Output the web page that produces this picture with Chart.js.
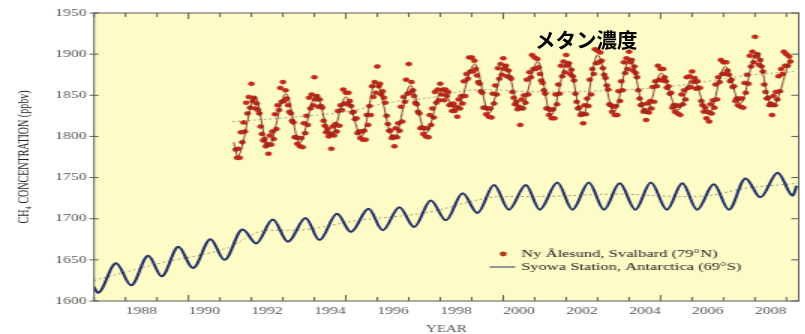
<!DOCTYPE html>
<html lang="ja">
<head>
    <meta charset="UTF-8">
    <title>メタン濃度</title>
    <script src="https://cdn.jsdelivr.net/npm/chart.js"></script>
    <style>
        body {
            margin: 0;
            padding: 0;
            background: #ffffff;
            overflow: hidden;
        }
        /* the original picture is stretched sideways, so the chart is drawn narrow and widened */
        #wrap {
            position: absolute;
            left: 0;
            top: 0;
            width: 537px;
            height: 334px;
            transform: scaleX(1.5);
            transform-origin: 0 0;
        }
        #jp {
            position: absolute;
            left: 535px;
            top: 29px;
            font-family: "Noto Sans CJK JP", sans-serif;
            font-weight: bold;
            font-size: 20.5px;
            line-height: 1;
            color: #000;
        }
    </style>
</head>
<body>
    <div id="wrap"><canvas id="chart"></canvas></div>
    <div id="jp">メタン濃度</div>
    <script>
        const seriesNames = ['Ny Ålesund, Svalbard (79°N)', 'Syowa Station, Antarctica (69°S)'];
        const yearLabels = [1988, 1990, 1992, 1994, 1996, 1998, 2000, 2002, 2004, 2006, 2008];
        const yTicks = [1600, 1650, 1700, 1750, 1800, 1850, 1900, 1950];

        // Ny Alesund flask samples, two per month from July 1991
        const nyDotStart = 1991.5;
        const nyDots = [
            1784,1774,1785,1774,1805,1793,1817,1806,1841,1828,1848,1835,1864,1843,1847,1834,1840,1832,1828,1812,1803,1795,1797,1788,
            1791,1779,1801,1790,1806,1797,1827,1809,1838,1832,1859,1842,1866,1843,1856,1846,1838,1830,1828,1819,1817,1799,1799,1791,
            1798,1788,1798,1787,1816,1804,1825,1814,1847,1834,1851,1838,1872,1845,1849,1836,1845,1837,1835,1819,1813,1805,1809,1800,
            1804,1785,1812,1801,1815,1806,1831,1813,1838,1832,1857,1840,1853,1839,1853,1843,1837,1829,1830,1821,1822,1804,1806,1798,
            1806,1796,1807,1796,1826,1814,1837,1826,1861,1848,1866,1853,1885,1861,1864,1851,1855,1847,1841,1825,1815,1807,1807,1798,
            1800,1788,1810,1799,1816,1807,1836,1818,1848,1842,1869,1852,1888,1853,1866,1856,1849,1841,1839,1830,1828,1810,1811,1803,
            1810,1800,1810,1799,1826,1814,1834,1823,1854,1841,1857,1844,1864,1851,1857,1844,1857,1849,1854,1838,1839,1831,1840,1831,
            1836,1824,1845,1834,1849,1840,1867,1849,1876,1870,1896,1879,1896,1879,1892,1882,1874,1866,1864,1855,1853,1835,1835,1827,
            1834,1824,1834,1823,1852,1840,1862,1851,1883,1870,1888,1875,1895,1882,1886,1873,1880,1872,1870,1854,1847,1839,1842,1833,
            1836,1814,1845,1834,1850,1841,1869,1851,1878,1872,1899,1882,1896,1882,1894,1884,1876,1868,1865,1856,1852,1834,1834,1826,
            1832,1822,1833,1822,1851,1839,1863,1852,1886,1873,1891,1878,1899,1886,1889,1876,1881,1873,1868,1852,1842,1834,1835,1826,
            1828,1816,1838,1827,1846,1837,1869,1851,1882,1876,1906,1889,1904,1890,1902,1892,1883,1875,1871,1862,1857,1839,1838,1830,
            1836,1826,1837,1826,1855,1843,1867,1856,1890,1877,1895,1882,1903,1890,1893,1880,1885,1877,1872,1856,1846,1838,1839,1830,
            1832,1820,1840,1829,1843,1834,1860,1842,1867,1861,1886,1869,1882,1868,1882,1872,1867,1859,1861,1852,1853,1835,1838,1830,
            1838,1828,1837,1826,1851,1839,1856,1845,1872,1859,1873,1860,1879,1866,1871,1858,1867,1859,1859,1843,1838,1830,1835,1822,
            1830,1818,1839,1828,1844,1835,1863,1845,1872,1866,1893,1876,1890,1876,1890,1880,1875,1867,1869,1860,1861,1843,1846,1838,
            1846,1836,1846,1835,1865,1853,1875,1864,1898,1885,1903,1890,1921,1897,1900,1887,1893,1885,1879,1863,1854,1846,1847,1838,
            1840,1826,1849,1838,1854,1845,1873,1855,1882,1876,1903,1886,1900,1886,1897,1891
        ];

        // smoothed Ny Alesund curve (turning points)
        const nyLineYears = [1991.44,1991.56,1992.12,1992.53,1993.1,1993.53,1994.05,1994.53,1995.0,1995.5,1995.95,1996.53,1997.05,1997.55,1998.05,1998.5,1999.1,1999.55,2000.05,2000.55,2001.1,2001.52,2002.05,2002.52,2003.0,2003.52,2004.02,2004.53,2005.02,2005.55,2006.02,2006.53,2007.05,2007.54,2008.05,2008.54,2009.12];
        const nyLineValues = [1793,1776,1848,1787,1852,1792,1850,1800,1848,1800,1866,1796,1862,1804,1856,1832,1888,1828,1887,1832,1891,1826,1891,1824,1899,1830,1895,1828,1877,1832,1871,1826,1885,1840,1902,1836,1895];

        const nyTrendYears = [1991.4,1993.5,1995.0,1996.5,1997.5,1999.3,2001.3,2003.5,2005.6,2007.7,2009.3];
        const nyTrendValues = [1818,1824,1830,1842,1846,1857,1854,1856,1862,1874,1879];

        // Syowa Station (turning points of the seasonal cycle)
        const syYears = [1987.0,1987.12,1987.7,1988.18,1988.72,1989.15,1989.68,1990.14,1990.7,1991.14,1991.72,1992.15,1992.68,1993.16,1993.72,1994.16,1994.72,1995.16,1995.72,1996.17,1996.7,1997.17,1997.7,1998.18,1998.71,1999.18,1999.71,2000.18,2000.72,2001.16,2001.72,2002.2,2002.72,2003.2,2003.7,2004.2,2004.69,2005.2,2005.69,2006.16,2006.69,2007.17,2007.7,2008.17,2008.72,2009.2,2009.32];
        const syValues = [1617,1610,1646,1619,1655,1630,1666,1640,1675,1650,1687,1670,1699,1672,1701,1674,1706,1684,1712,1686,1714,1690,1722,1698,1731,1707,1741,1711,1741,1711,1744,1711,1744,1711,1743,1711,1744,1711,1743,1711,1742,1711,1749,1726,1756,1728,1740];

        const syTrendYears = [1987.0,1989.1,1991.2,1992.5,1993.3,1995.4,1997.65,1999.2,1999.9,2001.1,2003.6,2005.6,2006.5,2007.7,2009.35];
        const syTrendValues = [1625,1646,1664,1686,1686,1698,1708,1723,1727,1727,1730,1727,1728,1737,1743];

        const serif = '"Liberation Serif", "Times New Roman", serif';
        const pts = (xs, ys) => xs.map((x, i) => ({x: x, y: ys[i]}));
        const dotPoints = nyDots.map((v, i) => ({x: nyDotStart + i / 24, y: v}));

        // yellow plot area, frame, inside tick marks and legend
        const framePlugin = {
            id: 'frame',
            beforeDraw(chart) {
                const a = chart.chartArea, ctx = chart.ctx;
                ctx.save();
                ctx.fillStyle = '#fefcc6';
                ctx.fillRect(a.left, a.top, a.right - a.left, a.bottom - a.top);
                ctx.restore();
            },
            afterDraw(chart) {
                const a = chart.chartArea, ctx = chart.ctx;
                const xs = chart.scales.x, ys = chart.scales.y;
                ctx.save();
                ctx.strokeStyle = '#5a5a5a';
                ctx.lineWidth = 1;
                ctx.strokeRect(a.left, a.top, a.right - a.left, a.bottom - a.top);
                ctx.beginPath();
                for (let yr = 1987; yr <= 2009; yr++) {
                    const px = xs.getPixelForValue(yr);
                    const len = yr % 5 === 0 ? 6 : 4;
                    ctx.moveTo(px, a.bottom); ctx.lineTo(px, a.bottom - len);
                    ctx.moveTo(px, a.top); ctx.lineTo(px, a.top + len);
                }
                yTicks.forEach(v => {
                    const py = ys.getPixelForValue(v);
                    ctx.moveTo(a.left - 3, py); ctx.lineTo(a.left + 3, py);
                    ctx.moveTo(a.right, py); ctx.lineTo(a.right - 5, py);
                });
                ctx.stroke();

                // legend
                ctx.font = '11px ' + serif;
                ctx.textBaseline = 'middle';
                ctx.fillStyle = '#b53a1c';
                ctx.beginPath();
                ctx.arc(335.5, 254, 2.4, 0, Math.PI * 2);
                ctx.fill();
                ctx.strokeStyle = '#1f2f66';
                ctx.lineWidth = 1;
                ctx.beginPath();
                ctx.moveTo(326.5, 267); ctx.lineTo(343.5, 267);
                ctx.stroke();
                ctx.fillStyle = '#222222';
                ctx.fillText(seriesNames[0], 347.5, 254);
                ctx.fillText(seriesNames[1], 347.5, 267);
                ctx.restore();
            }
        };

        new Chart(document.getElementById('chart'), {
            type: 'line',
            data: {
                datasets: [{
                    label: seriesNames[0],
                    data: dotPoints,
                    showLine: false,
                    pointRadius: 2,
                    pointBackgroundColor: '#cc2716',
                    pointBorderColor: '#9e1f10',
                    pointBorderWidth: 0.5,
                    order: 1
                }, {
                    label: 'Ny Ålesund fit',
                    data: pts(nyLineYears, nyLineValues),
                    borderColor: '#7c2a1c',
                    borderWidth: 0.9,
                    pointRadius: 0,
                    cubicInterpolationMode: 'monotone',
                    order: 0
                }, {
                    label: 'Ny Ålesund trend',
                    data: pts(nyTrendYears, nyTrendValues),
                    borderColor: '#9c9a80',
                    borderWidth: 1,
                    borderDash: [1.5, 2],
                    pointRadius: 0,
                    cubicInterpolationMode: 'monotone',
                    order: 2
                }, {
                    label: seriesNames[1],
                    data: pts(syYears, syValues),
                    borderColor: '#1f2f66',
                    borderWidth: 2,
                    pointRadius: 0,
                    cubicInterpolationMode: 'monotone',
                    order: 1
                }, {
                    label: 'Syowa trend',
                    data: pts(syTrendYears, syTrendValues),
                    borderColor: '#8f8e78',
                    borderWidth: 1,
                    borderDash: [1.5, 2],
                    pointRadius: 0,
                    cubicInterpolationMode: 'monotone',
                    order: 2
                }]
            },
            options: {
                responsive: true,
                maintainAspectRatio: false,
                animation: false,
                layout: { padding: { top: 13, right: 3.7, left: 0, bottom: 0 } },
                plugins: {
                    legend: { display: false },
                    tooltip: { enabled: false }
                },
                scales: {
                    x: {
                        type: 'linear',
                        min: 1987,
                        max: 2009.39,
                        grid: { display: false, drawTicks: false },
                        border: { display: false },
                        afterBuildTicks: s => { s.ticks = yearLabels.map(y => ({ value: y + 0.5 })); },
                        afterFit: s => { s.height = 33; },
                        ticks: {
                            autoSkip: false,
                            maxRotation: 0,
                            padding: 4,
                            color: '#5a5650',
                            font: { family: serif, size: 10.5 },
                            callback: v => String(Math.floor(v))
                        },
                        title: {
                            display: true,
                            text: 'YEAR',
                            color: '#5a5650',
                            padding: { top: 0, bottom: 0 },
                            font: { family: serif, size: 10, lineHeight: 1 }
                        }
                    },
                    y: {
                        min: 1600,
                        max: 1950,
                        grid: { display: false, drawTicks: false },
                        border: { display: false },
                        afterBuildTicks: s => { s.ticks = yTicks.map(v => ({ value: v })); },
                        afterFit: s => { s.width = 62.7; },
                        ticks: {
                            padding: 5,
                            color: '#5a5650',
                            font: { family: serif, size: 10.5 },
                            callback: v => String(v)
                        },
                        title: {
                            display: true,
                            text: 'CH₄ CONCENTRATION (ppbv)',
                            color: '#222222',
                            padding: { top: 10, bottom: 0 },
                            font: { family: serif, size: 10 }
                        }
                    }
                }
            },
            plugins: [framePlugin]
        });
    </script>
</body>
</html>
